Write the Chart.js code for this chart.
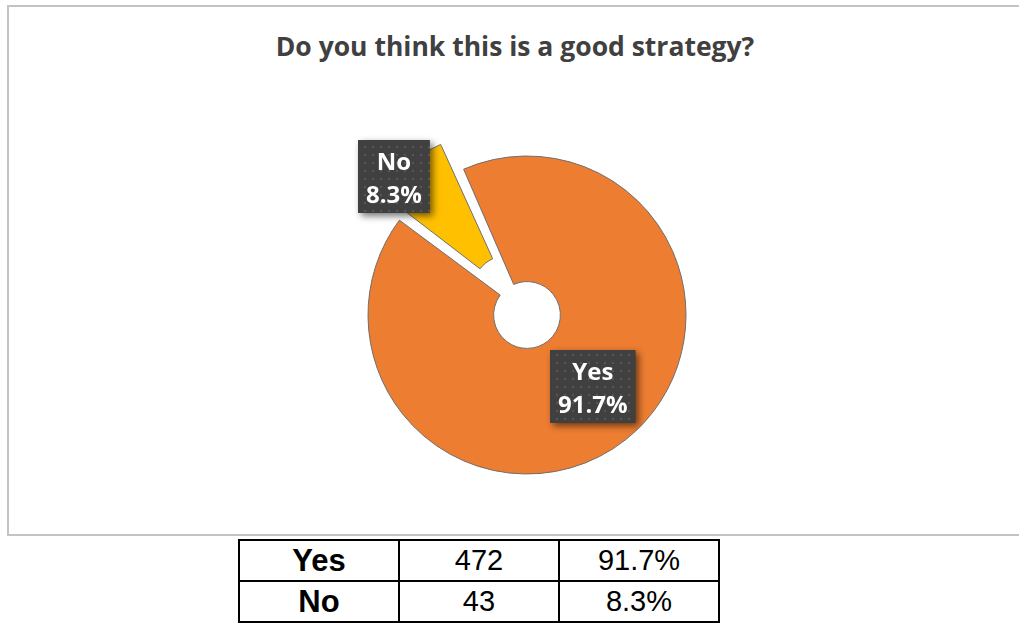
<!DOCTYPE html>
<html>
<head>
<meta charset="utf-8">
<script src="https://cdn.jsdelivr.net/npm/chart.js@4.4.1/dist/chart.umd.min.js"></script>
<style>
    html, body { margin: 0; padding: 0; background: #fff; }
    body { width: 1019px; height: 623px; position: relative; overflow: hidden; }
    .chart-box {
        position: absolute; left: 7px; top: 5px;
        width: 1012px; height: 527px;
        border: 2px solid #c3c3c3;
    }
    .chart-title {
        position: absolute; left: 0; top: 26px; width: 1012px;
        text-align: center;
        font: bold 26.5px/27px "Open Sans", sans-serif;
        color: #404040;
    }
    #pie { position: absolute; left: 0; top: 0; }
    .counts {
        position: absolute; left: 238px; top: 539px;
        border-collapse: collapse;
        font-family: "Liberation Sans", Arial, sans-serif;
        font-size: 29px; color: #000;
    }
    .counts td {
        border: 2px solid #000;
        width: 158px; height: 39px; padding: 0;
        text-align: center; vertical-align: middle;
    }
    .counts td:first-child { font-weight: bold; font-size: 31px; }
</style>
</head>
<body>
<div class="chart-box">
    <div class="chart-title">Do you think this is a good strategy?</div>
    <canvas id="pie" width="1012" height="527"></canvas>
</div>
<table class="counts" id="counts"></table>

<script>
    const answers = ['Yes', 'No'];
    const counts = [472, 43];
    const shares = [91.7, 8.3];

    // summary table under the chart
    const table = document.getElementById('counts');
    answers.forEach(function (a, i) {
        const row = table.insertRow();
        row.insertCell().textContent = a;
        row.insertCell().textContent = counts[i];
        row.insertCell().textContent = shares[i].toFixed(1) + '%';
    });

    // the doughnut grows an offset slice's radii; pull them back so the
    // pulled-out slice keeps the same size as the rest
    const explodeFix = {
        id: 'explodeFix',
        afterDatasetUpdate(chart, args) {
            args.meta.data.forEach(function (arc) {
                const shift = ((arc.options && arc.options.offset) || 0) / 4;
                if (!shift) return;
                const span = arc.endAngle - arc.startAngle;
                const grow = shift * (1 - Math.sin(Math.min(Math.PI, span)));
                arc.outerRadius -= grow;
                arc.innerRadius -= grow;
            });
        }
    };

    // dark dotted callout boxes
    function dotPattern(ctx) {
        const c = document.createElement('canvas');
        c.width = 8; c.height = 8;
        const g = c.getContext('2d');
        g.fillStyle = '#404040';
        g.fillRect(0, 0, 8, 8);
        g.fillStyle = '#575757';
        g.beginPath();
        g.arc(4, 4, 1.2, 0, Math.PI * 2);
        g.fill();
        return ctx.createPattern(c, 'repeat');
    }

    const place = [{r: 0.61, turn: -4.5}, {r: 1.115, turn: -6.5}];

    const sliceLabels = {
        id: 'sliceLabels',
        afterDatasetsDraw(chart) {
            const ctx = chart.ctx;
            const meta = chart.getDatasetMeta(0);
            const fill = dotPattern(ctx);
            meta.data.forEach(function (arc, i) {
                const mid = (arc.startAngle + arc.endAngle) / 2;
                const shift = (arc.options.offset || 0) / 4;
                const a = mid + place[i].turn * Math.PI / 180;
                const R = arc.outerRadius;
                const cx = arc.x + Math.cos(mid) * shift + Math.cos(a) * R * place[i].r;
                const cy = arc.y + Math.sin(mid) * shift + Math.sin(a) * R * place[i].r;
                const lines = [answers[i], shares[i].toFixed(1) + '%'];

                ctx.save();
                ctx.font = 'bold 24px "Open Sans", sans-serif';
                const w = Math.max.apply(null, lines.map(function (t) { return ctx.measureText(t).width; })) + 16;
                const h = 73;
                const x = Math.round(cx - w / 2), y = Math.round(cy - h / 2);

                ctx.shadowColor = 'rgba(0,0,0,0.55)';
                ctx.shadowBlur = 7;
                ctx.shadowOffsetX = 3;
                ctx.shadowOffsetY = 3;
                ctx.fillStyle = fill;
                ctx.fillRect(x, y, w, h);
                ctx.shadowColor = 'transparent';

                ctx.fillStyle = '#ffffff';
                ctx.textAlign = 'center';
                ctx.textBaseline = 'alphabetic';
                ctx.fillText(lines[0], x + w / 2, y + 30);
                ctx.fillText(lines[1], x + w / 2, y + 63);
                ctx.restore();
            });
        }
    };

    new Chart(document.getElementById('pie'), {
        type: 'doughnut',
        data: {
            labels: answers,
            datasets: [{
                data: shares,
                backgroundColor: ['#ED7D31', '#FFC000'],
                borderColor: '#6e6e6e',
                borderWidth: 1,
                offset: [0, 132]
            }]
        },
        options: {
            responsive: false,
            animation: false,
            events: [],
            rotation: -23.5,
            radius: 159,
            cutout: '21%',
            layout: { padding: { left: 24, right: 0, top: 99, bottom: 10 } },
            plugins: {
                legend: { display: false },
                tooltip: { enabled: false }
            }
        },
        plugins: [explodeFix, sliceLabels]
    });
</script>
</body>
</html>
